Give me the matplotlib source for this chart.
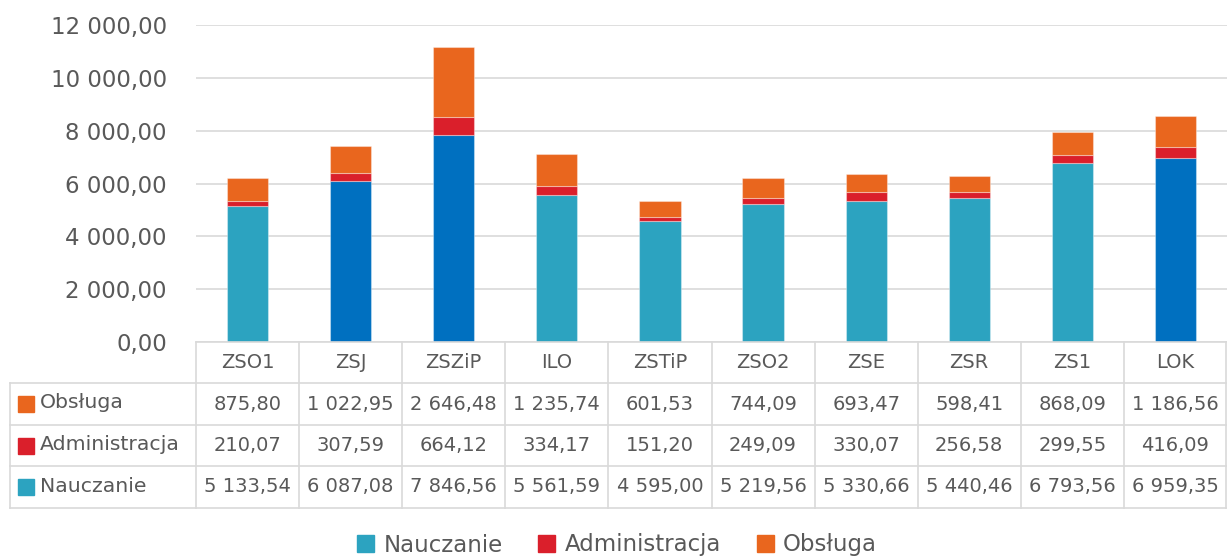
import matplotlib
matplotlib.use("Agg")
import matplotlib.pyplot as plt
from matplotlib.patches import Rectangle

categories = ["ZSO1", "ZSJ", "ZSZiP", "ILO", "ZSTiP", "ZSO2", "ZSE", "ZSR", "ZS1", "LOK"]
nauczanie = [5133.54, 6087.08, 7846.56, 5561.59, 4595.00, 5219.56, 5330.66, 5440.46, 6793.56, 6959.35]
administracja = [210.07, 307.59, 664.12, 334.17, 151.20, 249.09, 330.07, 256.58, 299.55, 416.09]
obsluga = [875.80, 1022.95, 2646.48, 1235.74, 601.53, 744.09, 693.47, 598.41, 868.09, 1186.56]
highlight = ["ZSJ", "ZSZiP", "LOK"]
series_names = ["Nauczanie", "Administracja", "Obsługa"]
yticks = [0, 2000, 4000, 6000, 8000, 10000, 12000]

C_TEAL = "#2CA3C0"
C_BLUE = "#0070C0"
C_RED = "#DA1F2B"
C_ORANGE = "#E9661E"
C_TEXT = "#595959"
C_GRID = "#D9D9D9"

def fmt(v, dec=2):
    s = f"{v:,.{dec}f}"
    return s.replace(",", " ").replace(".", ",")

W, H = 1227, 556
fig = plt.figure(figsize=(W / 100, H / 100), dpi=100)
plt.rcParams["font.family"] = "DejaVu Sans"

ax_l, ax_r, ax_top, ax_bot = 196, 1227, 25, 342
ax = fig.add_axes([ax_l / W, 1 - ax_bot / H, (ax_r - ax_l) / W, (ax_bot - ax_top) / H])
x = list(range(len(categories)))
ncol = [C_BLUE if c in highlight else C_TEAL for c in categories]
bottom2 = nauczanie
bottom3 = [a + b for a, b in zip(nauczanie, administracja)]
ekw = dict(edgecolor=(1, 1, 1, 0.35), linewidth=0.8, width=0.4, zorder=3)
ax.bar(x, nauczanie, color=ncol, **ekw)
ax.bar(x, administracja, bottom=bottom2, color=C_RED, **ekw)
ax.bar(x, obsluga, bottom=bottom3, color=C_ORANGE, **ekw)
ax.set_xlim(-0.5, len(categories) - 0.5)
ax.set_ylim(0, 12000)
ax.set_yticks(yticks)
ax.set_yticklabels([fmt(v) for v in yticks], fontsize=16.5, color=C_TEXT)
ax.tick_params(axis="y", length=0, pad=21)
ax.set_xticks([])
ax.grid(axis="y", color=C_GRID, linewidth=1.2, zorder=0)
for s in ax.spines.values():
    s.set_visible(False)

# overlay for the data table (pixel coordinates)
ov = fig.add_axes([0, 0, 1, 1])
ov.set_xlim(0, W)
ov.set_ylim(H, 0)
ov.axis("off")
ov.patch.set_alpha(0)

col_w = (ax_r - ax_l) / len(categories)
row_y = [342, 383, 425, 466, 508]
tbl_left = 10
lw = 1.2
ov.plot([ax_l, W - 1], [row_y[0], row_y[0]], color=C_GRID, lw=lw)
for yy in row_y[1:]:
    ov.plot([tbl_left, W - 1], [yy, yy], color=C_GRID, lw=lw)
for i in range(len(categories) + 1):
    xx = min(ax_l + i * col_w, W - 1)
    ov.plot([xx, xx], [row_y[0], row_y[-1]], color=C_GRID, lw=lw)
ov.plot([tbl_left, tbl_left], [row_y[1], row_y[-1]], color=C_GRID, lw=lw)

fs_num = 14.0
fs_lab = 14.7
for i, c in enumerate(categories):
    ov.text(ax_l + (i + 0.5) * col_w, (row_y[0] + row_y[1]) / 2, c, ha="center", va="center",
            fontsize=fs_num, color=C_TEXT)

rows = [("Obsługa", obsluga, C_ORANGE), ("Administracja", administracja, C_RED),
        ("Nauczanie", nauczanie, C_TEAL)]
for r, (name, vals, col) in enumerate(rows):
    yc = (row_y[r + 1] + row_y[r + 2]) / 2
    ov.add_patch(Rectangle((18, yc - 8), 16, 16, color=col))
    ov.text(40, yc - 1, name, ha="left", va="center", fontsize=fs_lab, color=C_TEXT)
    for i, v in enumerate(vals):
        ov.text(ax_l + (i + 0.5) * col_w, yc, fmt(v), ha="center", va="center",
                fontsize=fs_num, color=C_TEXT)

# legend
handles = [Rectangle((0, 0), 1, 1, color=c) for c in [C_TEAL, C_RED, C_ORANGE]]
fig.legend(handles, series_names, loc="center", bbox_to_anchor=(617 / W, 1 - 545 / H),
           ncol=3, frameon=False, fontsize=16.5, labelcolor=C_TEXT, handlelength=0.75,
           handleheight=0.75, handletextpad=0.4, columnspacing=1.55)

fig.savefig("out.png", dpi=100)
